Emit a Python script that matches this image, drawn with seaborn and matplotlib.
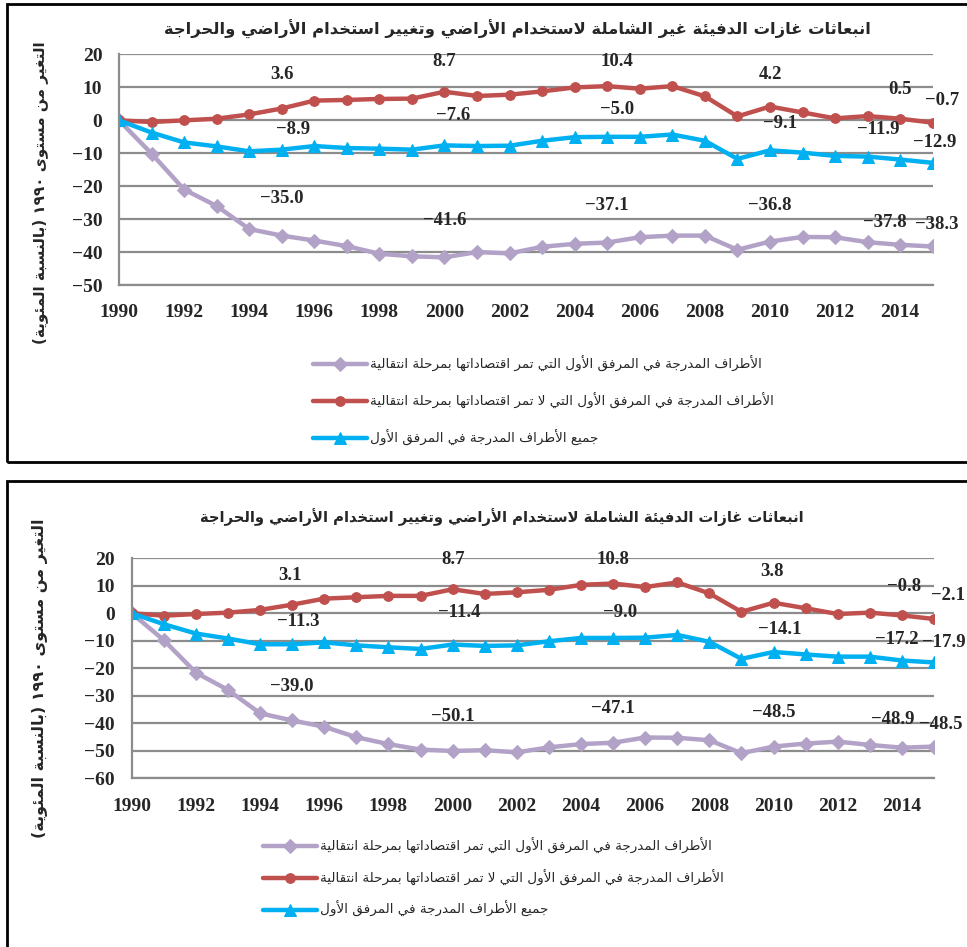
import re
import numpy as np
import pandas as pd
import seaborn as sns
import matplotlib.pyplot as plt
from matplotlib.patches import Rectangle

# ---------------- data
years = list(range(1990, 2016))

# panel 1 : excluding LULUCF
eit_excl = [0, -10.1, -21.0, -26.0, -33.0, -35.0, -36.5, -38.2, -40.5, -41.3, -41.6, -40.0, -40.4,
            -38.4, -37.5, -37.1, -35.5, -35.0, -35.0, -39.3, -36.8, -35.4, -35.5, -37.0, -37.8, -38.3]
noneit_excl = [0, -0.5, 0.0, 0.5, 1.8, 3.6, 6.0, 6.2, 6.5, 6.6, 8.7, 7.4, 7.8, 8.8, 10.0, 10.4,
               9.6, 10.4, 7.3, 1.2, 4.2, 2.4, 0.6, 1.3, 0.5, -0.7]
all_excl = [0, -3.7, -6.7, -7.9, -9.4, -8.9, -7.8, -8.4, -8.6, -8.9, -7.6, -7.8, -7.7, -6.2,
            -5.1, -5.0, -5.0, -4.3, -6.2, -11.7, -9.1, -9.8, -10.8, -11.0, -11.9, -12.9]

# panel 2 : including LULUCF
eit_incl = [0, -9.8, -21.6, -27.9, -36.4, -39.0, -41.3, -45.1, -47.6, -49.6, -50.1, -49.8, -50.6,
            -48.8, -47.6, -47.1, -45.2, -45.3, -46.2, -50.9, -48.5, -47.4, -46.7, -47.9, -48.9, -48.5]
noneit_incl = [0, -0.9, -0.3, 0.2, 1.2, 3.1, 5.3, 5.8, 6.3, 6.3, 8.7, 7.0, 7.6, 8.5, 10.3, 10.8,
               9.5, 11.2, 7.2, 0.5, 3.8, 1.8, -0.3, 0.2, -0.8, -2.1]
all_incl = [0, -4.0, -7.4, -9.2, -11.3, -11.3, -10.6, -11.7, -12.4, -13.0, -11.4, -11.9, -11.7,
            -10.2, -9.0, -9.0, -8.9, -7.9, -10.4, -16.6, -14.1, -15.0, -15.8, -15.8, -17.2, -17.9]

title_excl = "انبعاثات غازات الدفيئة غير الشاملة لاستخدام الأراضي وتغيير استخدام الأراضي والحراجة"
title_incl = "انبعاثات غازات الدفيئة الشاملة لاستخدام الأراضي وتغيير استخدام الأراضي والحراجة"
ylabel = "التغير من مستوى ١٩٩٠ (بالنسبة المئوية)"
series_names = ["الأطراف المدرجة في المرفق الأول التي تمر اقتصاداتها بمرحلة انتقالية",
                "الأطراف المدرجة في المرفق الأول التي لا تمر اقتصاداتها بمرحلة انتقالية",
                "جميع الأطراف المدرجة في المرفق الأول"]
label_years = [1995, 2000, 2005, 2010, 2014, 2015]


# ---------------- minimal arabic shaping + right-to-left ordering
four = {'ئ': 0xFE89, 'ب': 0xFE8F, 'ت': 0xFE95, 'ث': 0xFE99, 'ج': 0xFE9D, 'ح': 0xFEA1, 'خ': 0xFEA5,
        'س': 0xFEB1, 'ش': 0xFEB5, 'ص': 0xFEB9, 'ض': 0xFEBD, 'ط': 0xFEC1, 'ظ': 0xFEC5, 'ع': 0xFEC9,
        'غ': 0xFECD, 'ف': 0xFED1, 'ق': 0xFED5, 'ك': 0xFED9, 'ل': 0xFEDD, 'م': 0xFEE1, 'ن': 0xFEE5,
        'ه': 0xFEE9, 'ي': 0xFEF1}
two = {'آ': 0xFE81, 'أ': 0xFE83, 'ؤ': 0xFE85, 'إ': 0xFE87, 'ا': 0xFE8D, 'ة': 0xFE93, 'د': 0xFEA9,
       'ذ': 0xFEAB, 'ر': 0xFEAD, 'ز': 0xFEAF, 'و': 0xFEED, 'ى': 0xFEEF}
lamalef = {'آ': 0xFEF5, 'أ': 0xFEF7, 'إ': 0xFEF9, 'ا': 0xFEFB}


def shape(text):
    toks = []
    i = 0
    while i < len(text):
        c = text[i]
        if c == 'ل' and i + 1 < len(text) and text[i + 1] in lamalef:
            toks.append(('LA', text[i + 1]))
            i += 2
        else:
            toks.append(('C', c))
            i += 1

    def jtype(t):
        if t[0] == 'LA' or t[1] in two:
            return 'R'
        if t[1] in four:
            return 'D'
        return 'N'

    out = []
    for k, t in enumerate(toks):
        prev = k > 0 and jtype(toks[k - 1]) == 'D'
        nxt = k < len(toks) - 1 and jtype(t) == 'D' and jtype(toks[k + 1]) in ('D', 'R')
        if t[0] == 'LA':
            out.append(chr(lamalef[t[1]] + (1 if prev else 0)))
        elif t[1] in four:
            off = 3 if (prev and nxt) else 1 if prev else 2 if nxt else 0
            out.append(chr(four[t[1]] + off))
        elif t[1] in two:
            out.append(chr(two[t[1]] + (1 if prev else 0)))
        else:
            out.append(t[1])
    return ''.join(out)


def rtl(text):
    s = shape(text)
    runs = re.findall(r'\d+|\D+', s)
    mirror = str.maketrans('()', ')(')
    return ''.join(r if r[0].isdigit() else r[::-1].translate(mirror) for r in reversed(runs))


# ---------------- style
sns.set_theme(style="white")
plt.rcParams['font.family'] = ['Liberation Serif', 'DejaVu Sans']
plt.rcParams['axes.unicode_minus'] = True

colors = ["#B3A2C7", "#C0504D", "#00B0F0"]
markers = ["D", "o", "^"]
msizes = [7, 7, 9]

fig = plt.figure(figsize=(9.67, 9.47), dpi=100)
W, H = 967, 947

# panel frames
fig.add_artist(Rectangle((7 / W, 1 - 462 / H), 1.0, (462 - 4) / H, transform=fig.transFigure,
                         fill=False, ec='black', lw=2))
fig.add_artist(Rectangle((7 / W, -0.05), 1.0, 0.05 + (947 - 481) / H, transform=fig.transFigure,
                         fill=False, ec='black', lw=2))

panels = [
    dict(data=[eit_excl, noneit_excl, all_excl], rect=[119, 54.5, 932.7, 285], ylim=(-50, 20),
         title=title_excl, title_xy=(517, 29), title_fs=11.8, ylab_y=193, ylab_fs=11,
         leg_xy=(313, 356), leg_space=1.55,
         offsets=[[(0, 37), (0, 37), (0, 37), (0, 36), (-15, 22), (4, 22)],
                  [(0, 34), (0, 30), (10, 25), (0, 32), (0, 29), (9, 22)],
                  [(11, 20), (9, 30), (10, 27), (10, 27), (-22, 30), (2, 20)]]),
    dict(data=[eit_incl, noneit_incl, all_incl], rect=[131.7, 558.2, 934, 778.2], ylim=(-60, 20),
         title=title_incl, title_xy=(502, 517), title_fs=10.6, ylab_y=678, ylab_fs=11.5,
         leg_xy=(263, 838), leg_space=1.15,
         offsets=[[(0, 34), (0, 34), (0, 34), (0, 34), (-9, 28), (7, 22)],
                  [(-2, 29), (1, 30), (0, 24), (-2, 31), (2, 29), (14, 23)],
                  [(6, 23), (7, 32), (7, 25), (6, 22), (-5, 21), (10, 20)]]),
]

for p in panels:
    x0, y0, x1, y1 = p["rect"]
    ax = fig.add_axes([x0 / W, 1 - y1 / H, (x1 - x0) / W, (y1 - y0) / H])

    for vals, name, c, m, ms in zip(p["data"], series_names, colors, markers, msizes):
        df = pd.DataFrame({"year": years, "value": vals})
        sns.lineplot(data=df, x="year", y="value", color=c, marker=m, markersize=ms,
                     markeredgecolor=c, linewidth=3.2, label=rtl(name), ax=ax)

    # data labels
    for vals, offs in zip(p["data"], p["offsets"]):
        for yr, (dx, dy) in zip(label_years, offs):
            v = vals[years.index(yr)]
            ax.annotate(f"{v:.1f}".replace('-', '\u2212'), (yr, v), xytext=(dx * 0.72, dy * 0.72),
                        textcoords='offset points', ha='center', va='center',
                        fontsize=13.5, fontweight='bold', family='Liberation Serif')

    ax.set_xlim(1990, 2015)
    ax.set_ylim(*p["ylim"])
    ax.set_yticks(np.arange(p["ylim"][0], 21, 10))
    ax.set_xticks(np.arange(1990, 2015, 2))
    ax.grid(axis='y', color='#8c8c8c', linewidth=1.6)
    ax.grid(axis='x', visible=False)
    for s in ['top', 'right']:
        ax.spines[s].set_visible(False)
    for s in ['left', 'bottom']:
        ax.spines[s].set_color('#8c8c8c')
        ax.spines[s].set_linewidth(1.6)
    ax.tick_params(axis='both', length=0, labelsize=14)
    ax.tick_params(axis='y', pad=12)
    ax.tick_params(axis='x', pad=14)
    for t in ax.get_xticklabels() + ax.get_yticklabels():
        t.set_fontweight('bold')
    ax.set_xlabel("")
    ax.set_ylabel("")

    handles, labels = ax.get_legend_handles_labels()
    ax.legend(handles, labels, loc='upper left',
              bbox_to_anchor=(p["leg_xy"][0] / W, 1 - p["leg_xy"][1] / H), bbox_transform=fig.transFigure,
              frameon=False, handlelength=4.0, handletextpad=0.2,
              labelspacing=p["leg_space"], borderpad=0, borderaxespad=0,
              prop={'family': ['DejaVu Sans'], 'size': 9.7})

    fig.text(p["title_xy"][0] / W, 1 - p["title_xy"][1] / H, rtl(p["title"]), ha='center', va='center',
             fontsize=p["title_fs"], fontweight='bold', family=['DejaVu Sans'])
    fig.text(40 / W, 1 - p["ylab_y"] / H, rtl(ylabel), rotation=90, ha='center', va='center',
             fontsize=p["ylab_fs"], fontweight='bold', family=['DejaVu Sans'])

fig.savefig("out.png", dpi=100)
